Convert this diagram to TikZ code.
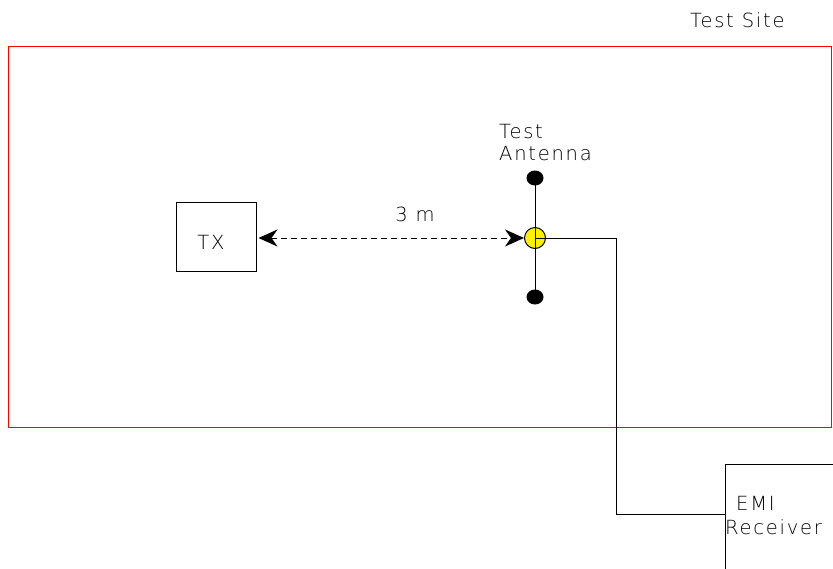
\documentclass[tikz,border=0pt]{standalone}
\usepackage{fontspec}
\setmainfont{DejaVu Sans ExtraLight}[LetterSpace=9]
\usetikzlibrary{arrows.meta,shapes.geometric}
\begin{document}
\begin{tikzpicture}[x=1pt,y=-1pt,
  thin line/.style={line width=1pt,draw=black},
  lbl/.style={font=\fontsize{19.5}{22}\selectfont,inner sep=0pt,anchor=base west},
  dot/.style={ellipse,fill=black,minimum width=17pt,minimum height=15pt,inner sep=0pt},
  dimline/.style={line width=1pt,dash pattern=on 6pt off 4pt,
    {Stealth[length=19pt,width=17pt,inset=6pt]}-{Stealth[length=19pt,width=17pt,inset=6pt]}}]
\useasboundingbox (0,0) rectangle (833,568);
% test site
\draw[line width=1pt,draw=red] (8,46) rectangle (831,427);
\node[lbl] (site) at (690,27) {Test Site};
% TX
\node[thin line,draw,minimum width=80pt,minimum height=69pt,inner sep=0pt] (tx) at (216,236.5) {};
\node[lbl,anchor=base] (txl) at (211,249) {TX};
% antenna
\node[dot] (d1) at (535,178) {};
\node[dot] (d2) at (535,297) {};
\draw[thin line] (d1.center) -- (d2.center);
\node[circle,draw=black,line width=1pt,fill=yellow,minimum size=21pt,inner sep=0pt] (ant) at (535,238) {};
\draw[thin line] (ant.north) -- (ant.south);
\node[lbl] (al1) at (499,138) {Test};
\node[lbl] (al2) at (499,160) {Antenna};
% distance
\coordinate (a1) at ([xshift=2pt]tx.east |- ant.west);
\draw[dimline] (a1) -- (ant.west);
\node[lbl,anchor=base] (dist) at (415,221) {3 m};
% cable
\node[thin line,draw,anchor=north west,minimum width=120pt,minimum height=120pt,inner sep=0pt] (rx) at (725,464) {};
\coordinate (c1) at (616,238);
\coordinate (c2) at (616,514);
\draw[thin line] (ant.center) -- (c1) -- (c2) -- (rx.west |- c2);
\node[lbl] (rl1) at (736,510) {EMI};
\node[lbl] (rl2) at (725,534) {Receiver};
\end{tikzpicture}
\end{document}
